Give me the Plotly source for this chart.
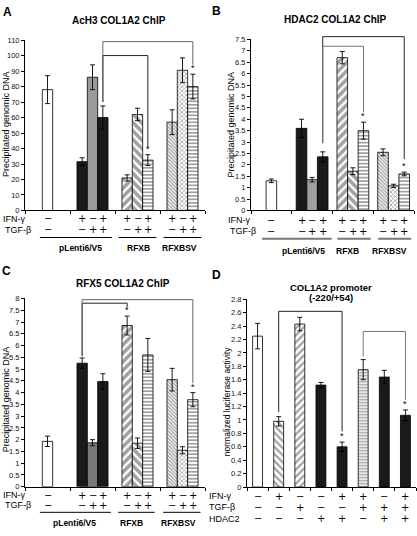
import plotly.graph_objects as go

W, H = 417, 536
FONT = "Liberation Sans, Arial, sans-serif"
SIGN_FONT = "DejaVu Sans, sans-serif"

# ---------------- data ----------------
chip_groups = ["pLenti6/V5", "RFXB", "RFXBSV"]
chip_ifn = ["−", "+", "−", "+", "+", "−", "+", "+", "−", "+"]
chip_tgf = ["−", "−", "+", "+", "−", "+", "+", "−", "+", "+"]
chip_ylabel = "Precipitated genomic DNA"

a_title = "AcH3 COL1A2 ChIP"
a_vals = [78, 31.5, 86, 60, 21, 62, 32.5, 57, 90.5, 80]
a_errs = [9, 2.5, 8, 7.5, 2, 4, 3.5, 8, 8, 8]

b_title = "HDAC2 COL1A2 ChIP"
b_vals = [1.3, 3.6, 1.35, 2.35, 6.7, 1.72, 3.5, 2.55, 1.08, 1.6]
b_errs = [0.08, 0.4, 0.1, 0.22, 0.27, 0.15, 0.37, 0.15, 0.07, 0.08]

c_title = "RFX5 COL1A2 ChIP"
c_vals = [1.93, 5.25, 1.87, 4.47, 6.85, 1.85, 5.6, 4.55, 1.55, 3.7]
c_errs = [0.22, 0.22, 0.13, 0.33, 0.4, 0.22, 0.7, 0.48, 0.15, 0.3]

d_title = ["COL1A2 promoter", "(-220/+54)"]
d_vals = [2.25, 0.98, 2.43, 1.52, 0.6, 1.75, 1.64, 1.07]
d_errs = [0.19, 0.07, 0.1, 0.04, 0.07, 0.15, 0.1, 0.08]
d_ifn = ["−", "+", "−", "−", "+", "+", "−", "+"]
d_tgf = ["−", "−", "+", "−", "−", "+", "+", "+"]
d_hdac = ["−", "−", "−", "+", "+", "−", "+", "+"]
d_ylabel = "normalized luciferase activity"

# ---------------- geometry (pixels) ----------------
def chip_pos(bw):
    pos = [0.5]
    for g in range(3):
        c = g + 1.5
        pos += [c - bw, c, c + bw]
    return pos

panels = {
    "A": dict(xa="x", ya="y", x0=25, x1=205, ybot=210, ytop=36.7, yr=[0, 110], dtick=10,
              ncat=4, bw=0.23),
    "B": dict(xa="x2", ya="y2", x0=251, x1=414, ybot=210, ytop=36, yr=[0, 7.5], dtick=0.5,
              ncat=4, bw=0.26),
    "C": dict(xa="x3", ya="y3", x0=25, x1=205, ybot=491, ytop=299.5, yr=[0, 8], dtick=0.5,
              ncat=4, bw=0.23),
    "D": dict(xa="x4", ya="y4", x0=247, x1=416, ybot=491.3, ytop=300.3, yr=[0, 2.8], dtick=0.2,
              ncat=8, bw=0.47),
}
for k in "ABC":
    panels[k]["pos"] = chip_pos(panels[k]["bw"])
panels["D"]["pos"] = [i + 0.5 for i in range(8)]


def xpap(p, v):
    return (p["x0"] + v / p["ncat"] * (p["x1"] - p["x0"])) / W


def ypap(p, v):
    r0, r1 = p["yr"]
    py = p["ybot"] - (v - r0) / (r1 - r0) * (p["ybot"] - p["ytop"])
    return 1 - py / H


BLACK = "#1a1a1a"


def chip_marker(grey):
    colors = ["white", BLACK, grey, BLACK] + ["white"] * 6
    shapes = ["", "", "", "", "/", "\\", "-", "\\", "x", "-"]
    fg = ["black"] * 7 + ["#444444", "#555555", "#555555"]
    size = [6, 6, 6, 6, 6, 6, 3.5, 2.5, 3, 3.5]
    sol = [0.3, 0.3, 0.3, 0.3, 0.6, 0.6, 0.5, 0.55, 0.45, 0.5]
    return dict(color=colors, line=dict(color="black", width=0.8),
                pattern=dict(shape=shapes, fgcolor=fg, bgcolor=colors, size=size,
                             solidity=sol, fillmode="overlay"))


d_colors = ["white", "white", "white", BLACK, BLACK, "white", BLACK, BLACK]
d_marker = dict(color=d_colors, line=dict(color="black", width=0.8),
                pattern=dict(shape=["", "\\", "/", "", "", "-", "", ""],
                             fgcolor=["black"] * 5 + ["#555555", "black", "black"],
                             bgcolor=d_colors, size=[6, 5, 5, 6, 6, 3, 6, 6],
                             solidity=[0.3, 0.45, 0.45, 0.3, 0.3, 0.5, 0.3, 0.3],
                             fillmode="overlay"))

fig = go.Figure()


def add_bars(p, vals, errs, marker):
    fig.add_trace(go.Bar(x=p["pos"], y=vals, width=p["bw"], marker=marker,
                         error_y=dict(type="data", array=errs, color="black",
                                      thickness=0.9, width=2.5),
                         xaxis=p["xa"], yaxis=p["ya"], showlegend=False, hoverinfo="skip"))


add_bars(panels["A"], a_vals, a_errs, chip_marker("#9a9a9a"))
add_bars(panels["B"], b_vals, b_errs, chip_marker("#a0a0a0"))
add_bars(panels["C"], c_vals, c_errs, chip_marker("#7a7a7a"))
add_bars(panels["D"], d_vals, d_errs, d_marker)

layout = dict(width=W, height=H, margin=dict(l=0, r=0, t=0, b=0),
              paper_bgcolor="white", plot_bgcolor="white", showlegend=False,
              font=dict(family=FONT, color="#000000"))

for k, p in panels.items():
    xn = "xaxis" + p["xa"][1:]
    yn = "yaxis" + p["ya"][1:]
    layout[xn] = dict(domain=[p["x0"] / W, p["x1"] / W], range=[0, p["ncat"]], anchor=p["ya"],
                      showline=True, linecolor="black", linewidth=1, ticks="outside",
                      tickvals=list(range(p["ncat"] + 1)), ticklen=3, tickcolor="black",
                      showticklabels=False, showgrid=False, zeroline=False, fixedrange=True)
    layout[yn] = dict(domain=[1 - p["ybot"] / H, 1 - p["ytop"] / H], range=p["yr"],
                      anchor=p["xa"], dtick=p["dtick"], showline=True, linecolor="black",
                      linewidth=1, ticks="outside", ticklen=3, tickcolor="black",
                      tickfont=dict(size=7.5, family=FONT, color="#111111"),
                      showgrid=False, zeroline=False, fixedrange=True)

annotations = []
shapes = []


def ann(text, x, y, xref="paper", yref="paper", size=9, xanchor="center",
        yanchor="middle", angle=0, color="#000000", family=FONT):
    annotations.append(dict(text=text, x=x, y=y, xref=xref, yref=yref, showarrow=False,
                            font=dict(size=size, family=family, color=color), borderpad=0,
                            xanchor=xanchor, yanchor=yanchor, textangle=angle))


def hline(x0, x1, y, color, width):
    shapes.append(dict(type="line", xref="paper", yref="paper", x0=x0, x1=x1, y0=y, y1=y,
                       line=dict(color=color, width=width)))


def bracket(p, i, j, yl, yt, yr, color):
    xi = xpap(p, p["pos"][i])
    xj = xpap(p, p["pos"][j])
    path = (f"M {xi},{ypap(p, yl)} L {xi},{ypap(p, yt)} "
            f"L {xj},{ypap(p, yt)} L {xj},{ypap(p, yr)}")
    shapes.append(dict(type="path", path=path, xref="paper", yref="paper",
                       line=dict(color=color, width=1)))


def star(p, i, vals, errs):
    ann("*", p["pos"][i], vals[i] + errs[i], xref=p["xa"], yref=p["ya"], size=9,
        yanchor="bottom")


def sign(s, x, xref, py, size=10):
    ann(s, x, 1 - py / H, xref=xref, size=size, family=SIGN_FONT, color="#000000")


# panel letters and titles
ann("<b>A</b>", 7 / W, 1 - 8 / H, size=12)
ann("<b>B</b>", 216 / W, 1 - 7 / H, size=12)
ann("<b>C</b>", 6 / W, 1 - 272 / H, size=12)
ann("<b>D</b>", 216 / W, 1 - 276 / H, size=12)
ann("<b>" + a_title + "</b>", 119 / W, 1 - 17 / H, size=10)
ann("<b>" + b_title + "</b>", 335 / W, 1 - 16 / H, size=10)
ann("<b>" + c_title + "</b>", 123 / W, 1 - 284.5 / H, size=10)
ann("<b>" + d_title[0] + "</b>", 331 / W, 1 - 288.5 / H, size=9.5)
ann("<b>" + d_title[1] + "</b>", 331 / W, 1 - 298.5 / H, size=9.5)

# y-axis titles
ann(chip_ylabel, 6 / W, 1 - 122 / H, size=9, angle=-90)
ann(chip_ylabel, 230.5 / W, 1 - 123 / H, size=9, angle=-90)
ann(chip_ylabel, 6 / W, 1 - 402 / H, size=9, angle=-90)
ann(d_ylabel, 227 / W, 1 - 404 / H, size=8.5, angle=-90)

# sign rows, underlines and group labels for ChIP panels
chip_rows = {
    "A": dict(r1=218.5, r2=229.5, lx=2, ul=237.5, ulc="black", ulw=1, gl=248,
              segs=[(0.33, 1.93), (2.08, 2.92), (3.08, 3.92)], gx=[1.24, 2.53, 3.44]),
    "B": dict(r1=220, r2=231, lx=227, ul=238.8, ulc="#777777", ulw=2, gl=251.5,
              segs=[(0.27, 1.98), (2.12, 2.94), (3.12, 3.93)], gx=[1.29, 2.36, 3.39]),
    "C": dict(r1=499.5, r2=510, lx=2, ul=517, ulc="black", ulw=1, gl=527.5,
              segs=[(0.33, 1.91), (2.07, 2.88), (3.07, 3.9)], gx=[1.09, 2.37, 3.4]),
}
for k, r in chip_rows.items():
    p = panels[k]
    ann("IFN-γ", r["lx"] / W, 1 - r["r1"] / H, size=9, xanchor="left")
    ann("TGF-β", (r["lx"] + 2) / W, 1 - r["r2"] / H, size=9, xanchor="left")
    for xv, s1, s2 in zip(p["pos"], chip_ifn, chip_tgf):
        sign(s1, xv, p["xa"], r["r1"])
        sign(s2, xv, p["xa"], r["r2"])
    for (u0, u1) in r["segs"]:
        hline(xpap(p, u0), xpap(p, u1), 1 - r["ul"] / H, r["ulc"], r["ulw"])
    for gxv, g in zip(r["gx"], chip_groups):
        ann("<b>" + g + "</b>", xpap(p, gxv), 1 - r["gl"] / H, size=8.5)

# panel D sign rows
pD = panels["D"]
for label, signs, py in [("IFN-γ", d_ifn, 500.5), ("TGF-β", d_tgf, 511.7), ("HDAC2", d_hdac, 523.5)]:
    ann(label, 208 / W, 1 - py / H, size=9, xanchor="left")
    for xv, s in zip(pD["pos"], signs):
        sign(s, xv, pD["xa"], py)

# brackets
bracket(panels["A"], 3, 6, 70, 100, 41, "#222222")
bracket(panels["A"], 3, 9, 70, 109, 94, "#666666")
bracket(panels["B"], 3, 9, 2.95, 7.62, 2.25, "#222222")
bracket(panels["B"], 3, 6, 2.95, 7.2, 4.3, "#777777")
bracket(panels["C"], 1, 4, 5.55, 7.8, 7.62, "#222222")
bracket(panels["C"], 1, 9, 5.55, 7.95, 4.4, "#666666")
bracket(panels["D"], 1, 4, 1.12, 2.62, 0.83, "#222222")
bracket(panels["D"], 5, 7, 1.95, 2.32, 1.3, "#777777")

# asterisks
for i in (6, 9):
    star(panels["A"], i, a_vals, a_errs)
    star(panels["B"], i, b_vals, b_errs)
for i in (4, 9):
    star(panels["C"], i, c_vals, c_errs)
for i in (4, 7):
    star(panels["D"], i, d_vals, d_errs)

layout["annotations"] = annotations
layout["shapes"] = shapes
fig.update_layout(**layout)
fig.write_html("out.html", config={"displayModeBar": False},
               post_script="document.body.style.margin='0';"
                           "document.body.style.overflow='hidden';")
